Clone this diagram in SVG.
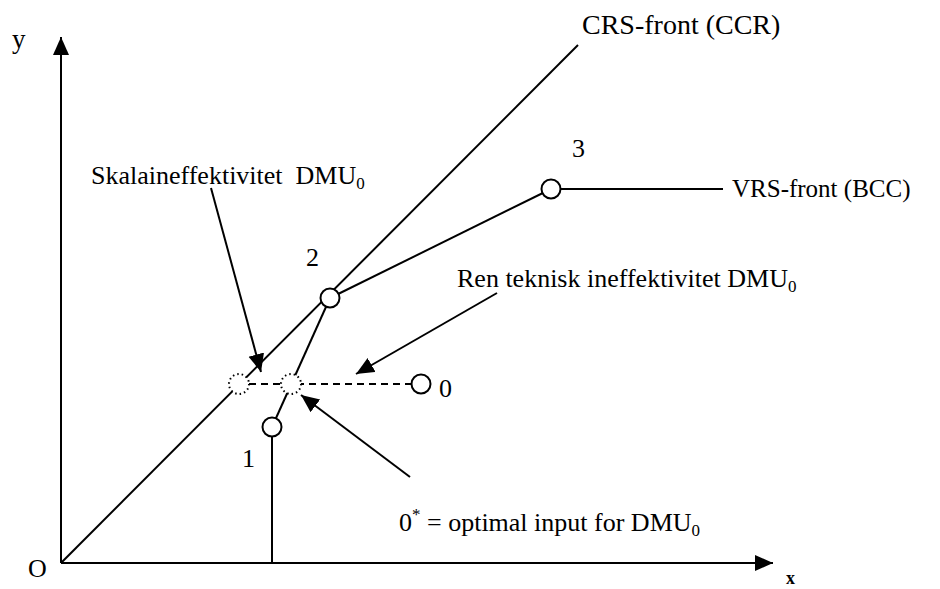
<svg xmlns="http://www.w3.org/2000/svg" width="940" height="589" viewBox="0 0 940 589">
<style>
.ln{stroke:#000;stroke-width:2;fill:none}
.nd{stroke:#000;stroke-width:2;fill:#fff}
.dt{stroke:#000;stroke-width:2;fill:#fff;stroke-dasharray:1.5 3}
.dash{stroke:#000;stroke-width:2;fill:none;stroke-dasharray:7 5}
text{font-family:"Liberation Serif","Times New Roman",serif;font-size:26px;fill:#000}
.sub{font-size:17px}
</style>
<defs>
<marker id="ah" markerUnits="userSpaceOnUse" markerWidth="19" markerHeight="17" refX="18" refY="8" orient="auto">
<path d="M0,0 L18,8 L0,16 z" fill="#000"/>
</marker>
</defs>
<rect width="940" height="589" fill="#fff"/>
<g id="connectors">
<line class="ln" x1="61" y1="563" x2="61" y2="37" marker-end="url(#ah)"/>
<line class="ln" x1="61" y1="563" x2="773" y2="563" marker-end="url(#ah)"/>
<line class="ln" x1="61" y1="563" x2="578" y2="45"/>
<line class="ln" x1="330" y1="298" x2="551" y2="189"/>
<line class="ln" x1="551" y1="189" x2="723" y2="189"/>
<line class="ln" x1="272" y1="427" x2="330" y2="298"/>
<line class="ln" x1="272" y1="427" x2="272" y2="563"/>
<line class="dash" x1="249" y1="384" x2="412" y2="384"/>
<line class="ln" x1="211" y1="188" x2="261" y2="372" marker-end="url(#ah)"/>
<line class="ln" x1="497" y1="293" x2="356" y2="374" marker-end="url(#ah)"/>
<line class="ln" x1="410" y1="477" x2="301" y2="395" marker-end="url(#ah)"/>
</g>
<g id="node-2"><circle class="nd" cx="330" cy="298" r="9.5"/><text x="306" y="266">2</text></g>
<g id="node-3"><circle class="nd" cx="551" cy="189" r="9.5"/><text x="572" y="157">3</text></g>
<g id="node-1"><circle class="nd" cx="272" cy="427" r="9.5"/><text x="242" y="467">1</text></g>
<g id="node-0"><circle class="nd" cx="421" cy="384" r="9.5"/><text x="439" y="397">0</text></g>
<g id="node-scale"><circle class="dt" cx="239" cy="384" r="10"/></g>
<g id="node-0star"><circle class="dt" cx="291" cy="384" r="10"/></g>
<g id="labels">
<text x="12" y="48" style="font-size:27px">y</text>
<text x="28" y="577">O</text>
<text x="786" y="584" style="font-size:18px;font-weight:bold">x</text>
<text x="582" y="34" style="font-size:28px">CRS-front (CCR)</text>
<text x="732" y="197" style="font-size:25px">VRS-front (BCC)</text>
<text x="91" y="184" style="white-space:pre">Skalaineffektivitet  DMU<tspan class="sub" dy="5">0</tspan></text>
<text x="457" y="287">Ren teknisk ineffektivitet DMU<tspan class="sub" dy="5">0</tspan></text>
<text x="399" y="531">0<tspan class="sub" dy="-11">*</tspan><tspan dy="11"> = optimal input for DMU</tspan><tspan class="sub" dy="5">0</tspan></text>
</g>
</svg>
